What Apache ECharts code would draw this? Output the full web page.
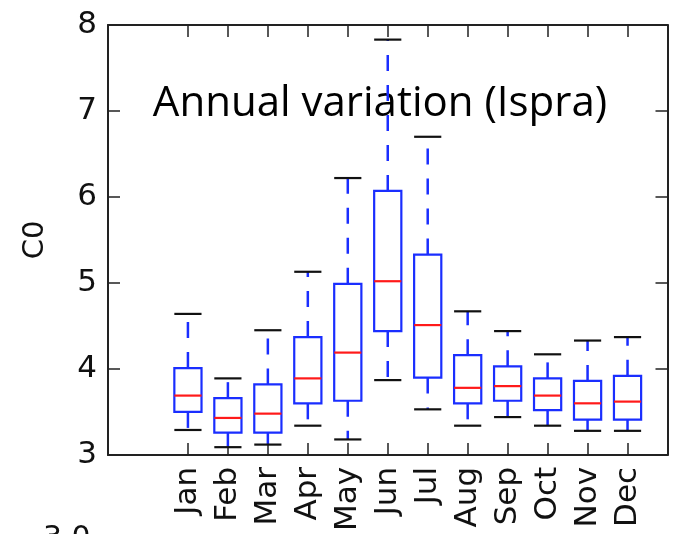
<!DOCTYPE html>
<html>
<head>
<meta charset="utf-8">
<script src="https://cdn.jsdelivr.net/npm/echarts@6/dist/echarts.min.js"></script>
<style>html,body{margin:0;padding:0;background:#fff;}#main{width:683px;height:534px;}</style>
</head>
<body>
<div id="main"></div>
<script>
// ---- data ----
const months = ['Jan','Feb','Mar','Apr','May','Jun','Jul','Aug','Sep','Oct','Nov','Dec'];
const whiskerLow  = [3.29, 3.09, 3.12, 3.34, 3.18, 3.87, 3.53, 3.34, 3.44, 3.34, 3.28, 3.28];
const q1          = [3.50, 3.26, 3.26, 3.60, 3.63, 4.44, 3.90, 3.60, 3.63, 3.52, 3.41, 3.41];
const medians     = [3.69, 3.43, 3.48, 3.89, 4.19, 5.02, 4.51, 3.78, 3.80, 3.69, 3.60, 3.62];
const q3          = [4.01, 3.66, 3.82, 4.37, 4.99, 6.07, 5.33, 4.16, 4.03, 3.89, 3.86, 3.92];
const whiskerHigh = [4.64, 3.89, 4.45, 5.13, 6.22, 7.83, 6.70, 4.67, 4.44, 4.17, 4.33, 4.37];
const yTicks = [3, 4, 5, 6, 7, 8];
const titleText = 'Annual variation (Ispra)';
const yName = 'C0';

// axis categories: padded so that the x range runs from position -1 to 13
const axisCats = ['', ' '].concat(months, ['  ']);
const boxData = months.map((m, i) => [m, whiskerLow[i], q1[i], medians[i], q3[i], whiskerHigh[i]]);

const BLUE = '#1a2eff';
const chart = echarts.init(document.getElementById('main'), null, {renderer: 'canvas'});

function renderBox(params, api) {
  const x = api.value(0);
  const pLow = api.coord([x, api.value(1)]);
  const pQ1 = api.coord([x, api.value(2)]);
  const pMed = api.coord([x, api.value(3)]);
  const pQ3 = api.coord([x, api.value(4)]);
  const pHigh = api.coord([x, api.value(5)]);
  const band = api.size([1, 0])[0];
  const hw = band * 0.34;
  const cx = pMed[0];
  return {
    type: 'group',
    children: [
      {type: 'line', shape: {x1: cx, y1: pQ3[1], x2: cx, y2: pHigh[1]},
       style: {stroke: BLUE, lineWidth: 2.5, lineDash: [16, 14]}},
      {type: 'line', shape: {x1: cx, y1: pQ1[1], x2: cx, y2: pLow[1]},
       style: {stroke: BLUE, lineWidth: 2.5, lineDash: [16, 14]}},
      {type: 'line', shape: {x1: cx - hw, y1: pHigh[1], x2: cx + hw, y2: pHigh[1]},
       style: {stroke: '#111', lineWidth: 2.2}},
      {type: 'line', shape: {x1: cx - hw, y1: pLow[1], x2: cx + hw, y2: pLow[1]},
       style: {stroke: '#111', lineWidth: 2.2}},
      {type: 'rect', shape: {x: cx - hw, y: pQ3[1], width: 2 * hw, height: pQ1[1] - pQ3[1]},
       style: {stroke: BLUE, lineWidth: 2.2, fill: 'rgba(255,255,255,0)'}},
      {type: 'line', shape: {x1: cx - hw, y1: pMed[1], x2: cx + hw, y2: pMed[1]},
       style: {stroke: '#ff1a1a', lineWidth: 2.2}}
    ]
  };
}

const tickFn = (idx, val) => months.indexOf(val) >= 0;
const axisLineStyle = {color: '#222', width: 2};

const option = {
  animation: false,
  backgroundColor: '#fff',
  grid: {left: 108, right: 4, top: 25, bottom: 78, containLabel: false},
  xAxis: [
    {type: 'category', data: axisCats, boundaryGap: false, position: 'bottom',
     axisLine: {lineStyle: axisLineStyle},
     axisTick: {inside: true, length: 12, interval: tickFn, lineStyle: {color: '#222', width: 1.5}},
     axisLabel: {interval: 0, rotate: 90, margin: 12, fontFamily: 'DejaVu Sans', fontSize: 31, color: '#111'},
     splitLine: {show: false}},
    {type: 'category', data: axisCats, boundaryGap: false, position: 'top',
     axisLine: {lineStyle: axisLineStyle},
     axisTick: {inside: true, length: 12, interval: tickFn, lineStyle: {color: '#222', width: 1.5}},
     axisLabel: {show: false}, splitLine: {show: false}}
  ],
  yAxis: [
    {type: 'value', min: yTicks[0], max: yTicks[yTicks.length - 1], interval: 1, position: 'left',
     name: yName, nameLocation: 'middle', nameGap: 58, nameRotate: 90,
     nameTextStyle: {fontFamily: 'DejaVu Sans', fontSize: 29, color: '#111'},
     axisLine: {show: true, lineStyle: axisLineStyle},
     axisTick: {show: true, inside: true, length: 12, lineStyle: {color: '#222', width: 1.5}},
     axisLabel: {margin: 11, fontFamily: 'DejaVu Sans', fontSize: 31, color: '#111'},
     splitLine: {show: false}},
    {type: 'value', min: yTicks[0], max: yTicks[yTicks.length - 1], interval: 1, position: 'right',
     axisLine: {show: true, lineStyle: axisLineStyle},
     axisTick: {show: true, inside: true, length: 12, lineStyle: {color: '#222', width: 1.5}},
     axisLabel: {show: false}, splitLine: {show: false}}
  ],
  graphic: [
    {type: 'text', x: 380, y: 104, style: {text: titleText, fontFamily: 'Open Sans', fontSize: 42,
      fill: '#000', align: 'center', verticalAlign: 'middle'}},
    {type: 'text', x: 43, y: 524, style: {text: '3.0', fontFamily: 'DejaVu Sans', fontSize: 30,
      fill: '#111', align: 'left', verticalAlign: 'top'}}
  ],
  series: [{
    type: 'custom',
    xAxisIndex: 0, yAxisIndex: 0,
    renderItem: renderBox,
    encode: {x: 0, y: [1, 2, 3, 4, 5]},
    data: boxData,
    clip: false
  }]
};
chart.setOption(option);
</script>
</body>
</html>
